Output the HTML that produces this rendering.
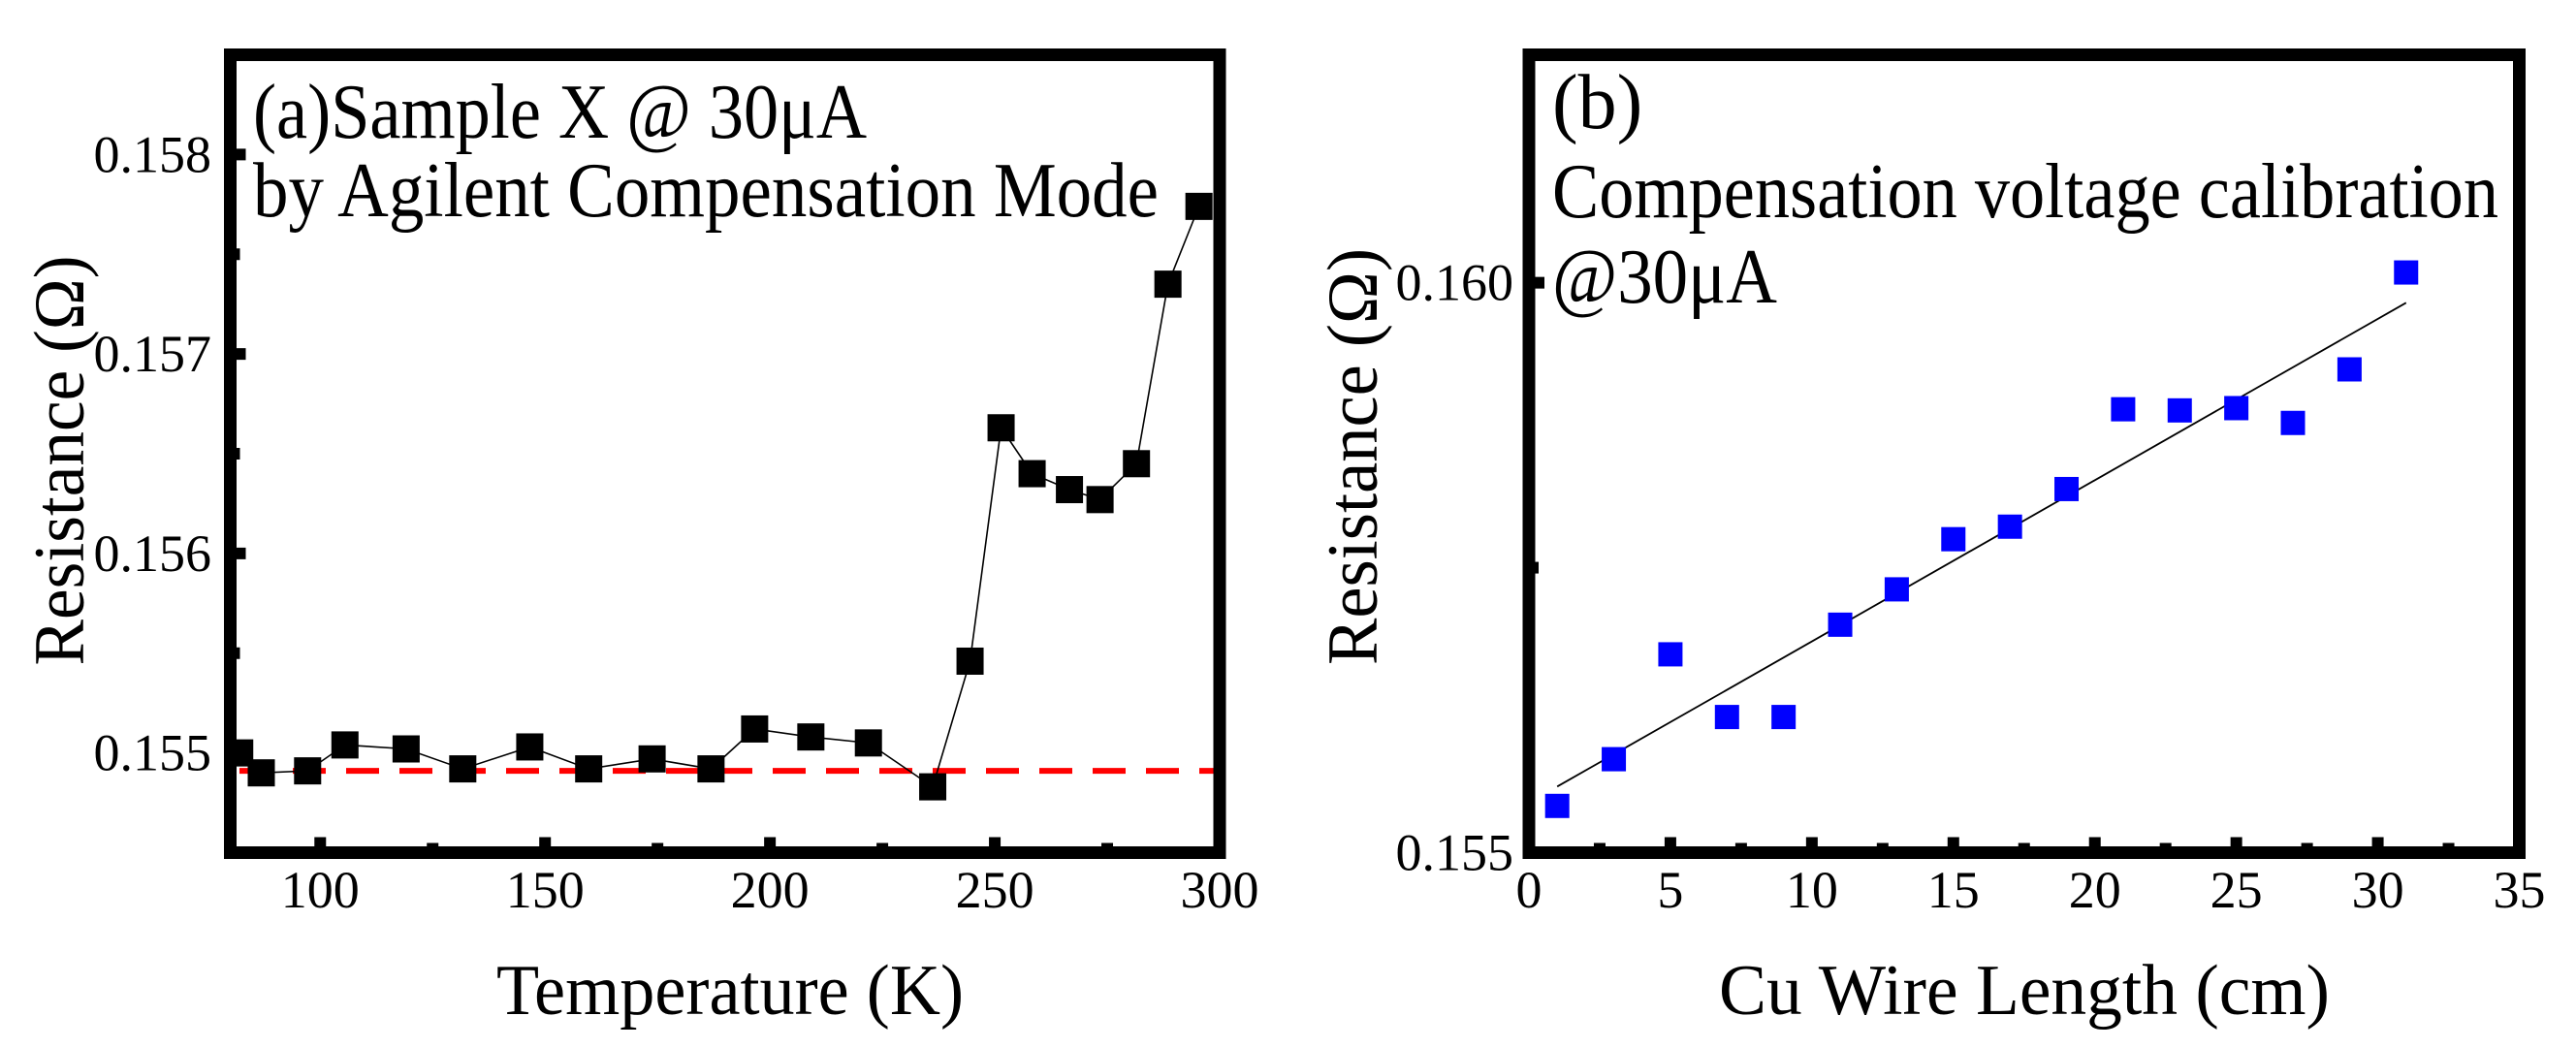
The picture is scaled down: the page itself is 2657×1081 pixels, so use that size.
<!DOCTYPE html>
<html><head><meta charset="utf-8">
<style>
html,body{margin:0;padding:0;background:#fff;}
svg{display:block;}
svg text{font-family:"Liberation Serif","DejaVu Serif",serif;}
</style></head>
<body>
<svg id="fig" width="2657" height="1081" viewBox="0 0 2657 1081" xmlns="http://www.w3.org/2000/svg" font-family="Liberation Serif, DejaVu Serif, serif">
  <g id="pa"></g>
  <g id="pb"></g>
</svg>
<script>
// Panel (a) data
const tempK = [82.1,86.9,97.2,105.5,119.1,131.7,146.6,159.7,173.8,186.9,196.6,209.1,221.9,236.2,244.5,251.4,258.3,266.6,273.4,281.5,288.5,295.4];
const resA = [0.15500,0.15490,0.15491,0.15504,0.15502,0.15492,0.15503,0.15492,0.15497,0.15492,0.15512,0.15508,0.15505,0.15483,0.15546,0.15663,0.15640,0.15632,0.15627,0.15645,0.15735,0.15774];
const baselineA = [0.15491];
const xTicksA = [100,150,200,250,300];
const xMinorA = [125,175,225,275];
const yTicksA = [0.155,0.156,0.157,0.158];
const yMinorA = [0.1555,0.1565,0.1575];
// Panel (b) data
const lenCm = [1,3,5,7,9,11,13,15,17,19,21,23,25,27,29,31];
const resB = [0.15541,0.15582,0.15674,0.15619,0.15619,0.15700,0.15731,0.15775,0.15786,0.15819,0.15889,0.15888,0.15890,0.15877,0.15924,0.16009];
const xTicksB = [0,5,10,15,20,25,30,35];
const xMinorB = [2.5,7.5,12.5,17.5,22.5,27.5,32.5];
const yTicksB = [0.155,0.160];
const yMinorB = [0.1575];

const NS = "http://www.w3.org/2000/svg";
const FF = '"Liberation Serif", "DejaVu Serif", serif';
function mk(parent, tag, attrs, text){
  const e = document.createElementNS(NS, tag);
  for (const k in attrs) e.setAttribute(k, attrs[k]);
  if (text !== undefined) { e.textContent = text; e.style.fontFamily = FF; }
  parent.appendChild(e);
  return e;
}
const T=56.5, B=879.5;

function frame(g, x0, x1){
  const r = mk(g,'rect',{x:x0,y:T,width:x1-x0,height:B-T,fill:'none',stroke:'#000','stroke-width':13});
  
  
}

// ---------- Panel A ----------
(function(){
  const g = document.getElementById('pa');
  const x0=237.5, x1=1258, xmin=80, xmax=300, ymin=0.1545, ymax=0.1585;
  const sx = v => x0 + (v-xmin)/(xmax-xmin)*(x1-x0);
  const sy = v => B - (v-ymin)/(ymax-ymin)*(B-T);
  const bl = mk(g,'line',{x1:247,x2:1253,y1:sy(baselineA[0]),y2:sy(baselineA[0]),stroke:'#ff0000','stroke-width':6,'stroke-dasharray':'34 21'});
  
  
  const pts = tempK.map((t,i)=>sx(t)+','+sy(resA[i])).join(' ');
  const pl = mk(g,'polyline',{points:pts,fill:'none',stroke:'#000','stroke-width':1.6});
  
  
  tempK.forEach((t,i)=>{
    const m = mk(g,'rect',{x:sx(t)-14,y:sy(resA[i])-14,width:28,height:28,fill:'#000'});
    
    
  });
  frame(g,x0,x1);
  xTicksA.forEach(v=>{
    const x=sx(v);
    const tk = mk(g,'rect',{x:x-6,y:B-16,width:12,height:10,fill:'#000'});
    
    
    const lb = mk(g,'text',{x:x,y:936,'font-size':54,'text-anchor':'middle'},String(v));
    
    
  });
  xMinorA.forEach(v=>{
    const tk = mk(g,'rect',{x:sx(v)-6,y:B-10,width:12,height:4,fill:'#000'});
    
    
  });
  yTicksA.forEach(v=>{
    const y=sy(v);
    const tk = mk(g,'rect',{x:x0+6,y:y-6,width:10,height:12,fill:'#000'});
    
    
    const lb = mk(g,'text',{x:218,y:y+18,'font-size':54,'text-anchor':'end'},v.toFixed(3));
    
    
  });
  yMinorA.forEach(v=>{
    const tk = mk(g,'rect',{x:x0+6,y:sy(v)-6,width:4,height:12,fill:'#000'});
    
    
  });
  const xt = mk(g,'text',{x:753,y:1046,'font-size':74,'text-anchor':'middle',textLength:482,lengthAdjust:'spacingAndGlyphs'},'Temperature (K)');
  
  
  const yt = mk(g,'text',{x:0,y:0,'font-size':74,'text-anchor':'middle',textLength:423,lengthAdjust:'spacingAndGlyphs',transform:'translate(86,475) rotate(-90)'},'Resistance (Ω)');
  
  
  const a1 = mk(g,'text',{x:261,y:142,'font-size':80,textLength:633,lengthAdjust:'spacingAndGlyphs'},'(a)Sample X @ 30μA');
  
  
  const a2 = mk(g,'text',{x:261,y:223,'font-size':80,textLength:934,lengthAdjust:'spacingAndGlyphs'},'by Agilent Compensation Mode');
  
  
})();

// ---------- Panel B ----------
(function(){
  const g = document.getElementById('pb');
  const x0=1577, x1=2598.5, xmin=0, xmax=35, ymin=0.155, ymax=0.162;
  const sx = v => x0 + (v-xmin)/(xmax-xmin)*(x1-x0);
  const sy = v => B - (v-ymin)/(ymax-ymin)*(B-T);
  const n=lenCm.length;
  const mx=lenCm.reduce((a,b)=>a+b,0)/n, my=resB.reduce((a,b)=>a+b,0)/n;
  let sxy=0,sxx=0;
  for(let i=0;i<n;i++){sxy+=(lenCm[i]-mx)*(resB[i]-my);sxx+=(lenCm[i]-mx)**2;}
  const k=sxy/sxx, c=my-k*mx;
  const xa=lenCm[0], xb=lenCm[n-1];
  const fit = mk(g,'line',{x1:sx(xa),y1:sy(k*xa+c),x2:sx(xb),y2:sy(k*xb+c),stroke:'#000','stroke-width':1.8});
  
  
  lenCm.forEach((t,i)=>{
    const m = mk(g,'rect',{x:sx(t)-12.5,y:sy(resB[i])-12.5,width:25,height:25,fill:'#0000ff'});
    
    
  });
  frame(g,x0,x1);
  xTicksB.forEach(v=>{
    const x=sx(v);
    const tk = mk(g,'rect',{x:x-6,y:B-16,width:12,height:10,fill:'#000'});
    
    
    const lb = mk(g,'text',{x:x,y:936,'font-size':54,'text-anchor':'middle'},String(v));
    
    
  });
  xMinorB.forEach(v=>{
    const tk = mk(g,'rect',{x:sx(v)-6,y:B-10,width:12,height:4,fill:'#000'});
    
    
  });
  yTicksB.forEach(v=>{
    const y=sy(v);
    const tk = mk(g,'rect',{x:x0+6,y:y-6,width:10,height:12,fill:'#000'});
    
    
    const lb = mk(g,'text',{x:1561,y:y+18,'font-size':54,'text-anchor':'end'},v.toFixed(3));
    
    
  });
  yMinorB.forEach(v=>{
    const tk = mk(g,'rect',{x:x0+6,y:sy(v)-6,width:4,height:12,fill:'#000'});
    
    
  });
  const xt = mk(g,'text',{x:2088,y:1046,'font-size':74,'text-anchor':'middle',textLength:630,lengthAdjust:'spacingAndGlyphs'},'Cu Wire Length (cm)');
  
  
  const yt = mk(g,'text',{x:0,y:0,'font-size':74,'text-anchor':'middle',textLength:430,lengthAdjust:'spacingAndGlyphs',transform:'translate(1420,471) rotate(-90)'},'Resistance (Ω)');
  
  
  const b0 = mk(g,'text',{x:1601,y:132,'font-size':80},'(b)');
  
  
  const b1 = mk(g,'text',{x:1601,y:224,'font-size':80,textLength:976,lengthAdjust:'spacingAndGlyphs'},'Compensation voltage calibration');
  
  
  const b2 = mk(g,'text',{x:1601,y:312,'font-size':80,textLength:232,lengthAdjust:'spacingAndGlyphs'},'@30μA');
  
  
})();
</script>
</body></html>
